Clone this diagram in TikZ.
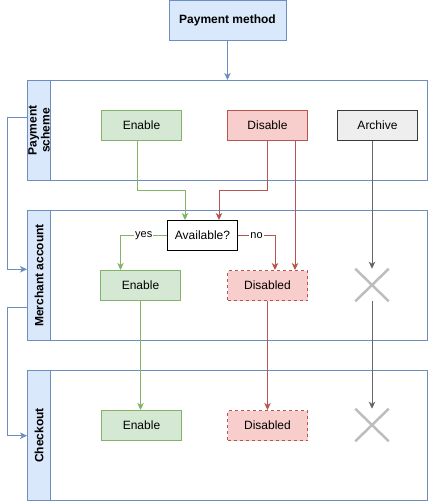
\documentclass[tikz,border=0pt]{standalone}
\usepackage{fontspec}
\setmainfont{Liberation Sans}
\usetikzlibrary{arrows.meta,shapes.misc}
\definecolor{bfill}{HTML}{DAE8FC}
\definecolor{bline}{HTML}{6C8EBF}
\definecolor{gfill}{HTML}{D5E8D4}
\definecolor{gline}{HTML}{82B366}
\definecolor{rfill}{HTML}{F8CECC}
\definecolor{rline}{HTML}{B85450}
\definecolor{afill}{HTML}{EEEEEE}
\definecolor{aline}{HTML}{36393D}
\definecolor{xgray}{HTML}{BDBDBD}
\definecolor{darkg}{HTML}{666666}
\begin{document}
\begin{tikzpicture}[x=1pt,y=-1pt,
  font=\fontsize{12}{14}\selectfont,
  box/.style={draw, line width=1pt, minimum width=80pt, minimum height=30pt, inner sep=0pt},
  gbox/.style={box, fill=gfill, draw=gline},
  rbox/.style={box, fill=rfill, draw=rline},
  rdbox/.style={rbox, dash pattern=on 3pt off 3pt},
  abox/.style={box, fill=afill, draw=aline},
  lanebox/.style={draw=bline, line width=1pt, minimum width=400pt, inner sep=0pt},
  hdr/.style={draw=bline, fill=bfill, line width=1pt, rotate=90, minimum height=23pt, inner sep=0pt, font=\bfseries\fontsize{12}{13}\selectfont, align=center},
  xmark/.style={cross out, draw=xgray, line width=2.5pt, minimum width=31pt, minimum height=30pt, inner sep=0pt},
  conn/.style={line width=1pt, -{Stealth[length=7pt,width=6.5pt,inset=2pt]}},
  gconn/.style={conn, draw=gline, color=gline},
  rconn/.style={conn, draw=rline, color=rline},
  kconn/.style={conn, draw=darkg, color=darkg},
  bconn/.style={conn, draw=bline, color=bline},
  lbl/.style={fill=white, inner sep=1pt, font=\fontsize{11}{12}\selectfont, text=black}
]
\useasboundingbox (0,0) rectangle (429,501);

% lanes
\node[lanebox, minimum height=100pt] (lane1) at (227.5,130.5) {};
\node[lanebox, minimum height=130pt] (lane2) at (227.5,275.5) {};
\node[lanebox, minimum height=130pt] (lane3) at (227.5,435.5) {};
\node[hdr, minimum width=100pt] (h1) at (39,130.5) {Payment\\scheme};
\node[hdr, minimum width=130pt] (h2) at (39,275.5) {Merchant account};
\node[hdr, minimum width=130pt] (h3) at (39,435.5) {Checkout};

% top
\node[box, fill=bfill, draw=bline, minimum width=117pt, minimum height=40pt, font=\bfseries\fontsize{12}{14}\selectfont] (pm) at (227.5,20.5) {Payment method};

% lane 1
\node[gbox] (e1) at (141.5,125.5) {Enable};
\node[rbox] (d1) at (267.5,125.5) {Disable};
\node[abox] (a1) at (377.5,125.5) {Archive};

% lane 2
\node[box, fill=white, draw=black, minimum width=70pt] (av) at (202.5,235.5) {Available?};
\node[gbox] (e2) at (140.5,285.5) {Enable};
\node[rdbox] (d2) at (267.5,285.5) {Disabled};
\node[xmark] (x2) at (372,285) {};

% lane 3
\node[gbox] (e3) at (141.5,425.5) {Enable};
\node[rdbox] (d3) at (267.5,425.5) {Disabled};
\node[xmark] (x3) at (372,425) {};

% connectors
\draw[bconn] (pm.south) -- (lane1.north);
\draw[gconn] (e1.south -| 137,0) |- (185,190.5) -- (av.north -| 185,0);
\draw[rconn] (d1.south) |- (219,190.5) -- (av.north -| 219,0);
\draw[rconn] (d1.south -| 295,0) -- (d2.north -| 295,0);
\draw[kconn] (a1.south -| 372,0) -- (x2.north);
\draw[gconn] (av.west) -| node[lbl, pos=0.25] {yes} (e2.north -| 120.5,0);
\draw[rconn] (av.east) -| node[lbl, pos=0.25] {no} (d2.north -| 275,0);
\draw[gconn] (e2.south) -- (e3.north -| e2.south);
\draw[rconn] (d2.south) -- (d3.north);
\draw[kconn] (x2.south) -- (x3.north);
\draw[bconn] (lane1.west |- 0,117.7) -- (7.3,117.7) |- (lane2.west |- 0,269.3);
\draw[bconn] (lane2.west |- 0,307.7) -- (7.3,307.7) |- (lane3.west |- 0,435.7);
\end{tikzpicture}
\end{document}
